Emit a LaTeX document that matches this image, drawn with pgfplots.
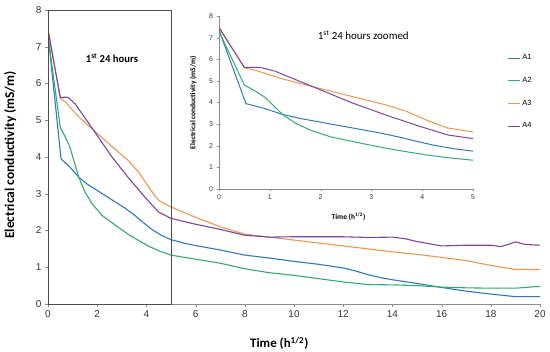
\documentclass[border=0pt]{standalone}
\usepackage{pgfplots}
\pgfplotsset{compat=1.18}
\usepackage{pgfplotstable}
\usepackage{fontspec}
\setmainfont{Carlito}
\newfontfamily\arial{Liberation Sans}
\definecolor{cA1}{HTML}{2E78BE}
\definecolor{cA2}{HTML}{33AA6E}
\definecolor{cA3}{HTML}{EB9750}
\definecolor{cA4}{HTML}{7A46A0}
\definecolor{axg}{HTML}{8C8C8C}

\pgfplotstableread{
x y
0 7.35
0.53 3.95
0.9 3.72
1.25 3.45
1.6 3.26
2 3.09
2.4 2.92
2.75 2.77
3.15 2.6
3.55 2.4
3.9 2.2
4.2 2.04
4.6 1.87
5 1.75
5.5 1.66
6 1.59
7 1.47
8 1.33
9 1.25
10 1.16
11 1.08
12 0.98
12.5 0.9
13 0.8
13.5 0.72
14 0.66
15 0.56
16 0.45
17 0.35
18 0.27
19 0.2
20 0.2
}\tA
\pgfplotstableread{
x y
0 7.3
0.5 4.8
0.7 4.55
0.9 4.25
1.25 3.45
1.5 3.05
1.8 2.72
2.2 2.41
2.85 2.09
3.3 1.88
3.7 1.72
4.1 1.57
4.5 1.45
5 1.33
6 1.22
7 1.11
8 0.96
9 0.85
10 0.78
11 0.69
12 0.6
13 0.53
14 0.52
15 0.5
16 0.46
17 0.44
18 0.43
19 0.43
20 0.48
}\tB
\pgfplotstableread{
x y
0 7.5
0.5 5.6
0.7 5.5
1.25 5.09
1.85 4.73
2.6 4.29
3.25 3.91
3.7 3.58
4.1 3.17
4.5 2.82
5 2.64
6 2.36
7 2.1
8 1.9
9 1.82
10 1.74
11 1.66
12 1.58
13 1.5
14 1.42
15 1.35
16 1.27
17 1.18
18 1.05
19 0.94
20 0.94
}\tC
\pgfplotstableread{
x y
0 7.45
0.5 5.62
0.8 5.63
1.1 5.45
1.85 4.73
2.6 4.0
3.25 3.45
3.95 2.9
4.5 2.5
5 2.33
6 2.17
7 2.03
8 1.87
9 1.82
10 1.83
11 1.83
12 1.83
13 1.81
14 1.82
14.5 1.78
15 1.7
16 1.58
17 1.6
18 1.6
18.4 1.56
18.7 1.62
19 1.69
19.4 1.62
20 1.6
}\tD

\begin{document}
\begin{tikzpicture}
\useasboundingbox (-48bp,-48bp) rectangle (502bp,304bp);
\begin{axis}[at={(0bp,0bp)}, anchor=south west,
  width=492bp, height=294bp, scale only axis,
  xmin=0, xmax=20, ymin=0, ymax=8,
  xtick={0,2,...,20}, ytick={0,1,...,8},
  axis lines=left, axis line style={draw=axg,-},
  tick style={draw=axg}, tick align=outside, major tick length=3bp,
  /pgf/number format/assume math mode=true,
  ticklabel style={font=\arial\fontsize{10}{12}\selectfont, text=black!80},
  xlabel={\bfseries Time (h\textsuperscript{1/2})},
  ylabel={\bfseries Electrical conductivity (mS/m)},
  xlabel style={font=\fontsize{13}{15}\selectfont, at={(axis description cs:0.47,-0.133)}, anchor=center},
  ylabel style={font=\fontsize{13.5}{15}\selectfont, at={(axis description cs:-0.077,0.507)}, anchor=center},
  every axis plot/.append style={line width=1.1bp},
]
\addplot[cA1, no marks] table {\tA};
\addplot[cA2, no marks] table {\tB};
\addplot[cA3, no marks] table {\tC};
\addplot[cA4, no marks] table {\tD};
\draw[black!70, line width=0.6bp] (axis cs:0,0) rectangle (axis cs:5,8);
\node[font=\bfseries\fontsize{10.7}{12}\selectfont] at (axis cs:2.6,6.7) {1\textsuperscript{st} 24 hours};
\end{axis}
\begin{axis}[at={(171bp,115bp)}, anchor=south west,
  width=254bp, height=173bp, scale only axis,
  xmin=0, xmax=5, ymin=0, ymax=8,
  xtick={0,1,...,5}, ytick={0,1,...,8},
  axis lines=left, axis line style={draw=axg,-},
  tick style={draw=axg}, tick align=outside, major tick length=2.5bp,
  /pgf/number format/assume math mode=true,
  ticklabel style={font=\arial\fontsize{7}{8}\selectfont, text=black!80},
  xlabel={\bfseries Time (h\textsuperscript{1/2})},
  ylabel={\bfseries Electrical conductivity (mS/m)},
  label style={font=\fontsize{7.5}{9}\selectfont},
  xlabel style={at={(axis description cs:0.51,-0.162)}, anchor=center},
  ylabel style={at={(axis description cs:-0.102,0.5)}, anchor=center},
  every axis plot/.append style={line width=1bp},
  legend style={at={(axis description cs:1.135,0.56)}, anchor=west, draw=none, fill=none,
    font=\arial\fontsize{7.5}{9}\selectfont, row sep=12bp, inner sep=0pt},
  legend cell align=left,
  legend image code/.code={\draw[#1] (0bp,0bp) -- (12bp,0bp);},
]
\addplot[cA1, no marks] table {\tA};
\addplot[cA2, no marks] table {\tB};
\addplot[cA3, no marks] table {\tC};
\addplot[cA4, no marks] table {\tD};
\legend{A1,A2,A3,A4}
\node[font=\fontsize{11}{13}\selectfont] at (axis cs:2.84,7.1) {1\textsuperscript{st} 24 hours zoomed};
\end{axis}
\end{tikzpicture}
\end{document}
